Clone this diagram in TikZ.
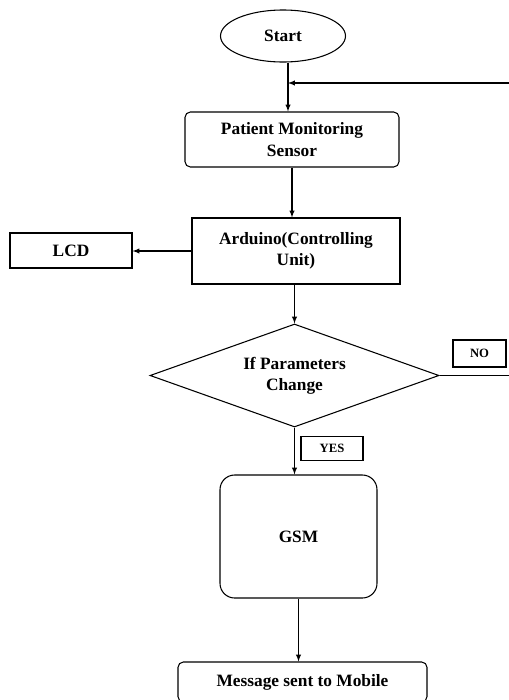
\documentclass[tikz,border=0pt]{standalone}
\usepackage{fontspec}
\setmainfont{Liberation Serif}
\usetikzlibrary{positioning, arrows, shapes.geometric, calc}

\tikzset{
    box/.style={draw, thick, align=center, inner sep=2pt, font=\fontsize{13}{16}\selectfont\bfseries},
    roundbox/.style={box, rounded corners=4pt},
    tag/.style={draw, thick, inner sep=1pt, font=\fontsize{9.5}{11}\selectfont\bfseries},
    flow/.style={draw, thick, -latex}
}

\begin{document}
\begin{tikzpicture}[x=0.75pt, y=-0.75pt]
    \useasboundingbox (0,0) rectangle (509,700);
    \clip (0,0) rectangle (509,700);

    % blocks
    \node[box, ellipse, minimum width=93.75pt, minimum height=39pt] (start) at (283,36) {Start};
    \node[roundbox, minimum width=160.5pt, minimum height=41.25pt] (pms) at (292,139.5) {Patient Monitoring\\Sensor};
    \node[box, minimum width=156pt, minimum height=49.5pt] (ard) at (296,251) {Arduino(Controlling\\Unit)};
    \node[box, minimum width=91.5pt, minimum height=26.25pt] (lcd) at (71,250.5) {LCD};
    \node[box, diamond, aspect=2.8, inner sep=0pt, minimum width=216.75pt, minimum height=77.25pt] (cond) at (294.5,375.5) {If Parameters\\Change};
    \node[tag, minimum width=39.75pt, minimum height=20.25pt] (no) at (479.5,353.5) {NO};
    \node[tag, minimum width=46.5pt, minimum height=18pt] (yes) at (332,448.5) {YES};
    \node[box, rounded corners=11pt, minimum width=117.75pt, minimum height=92.25pt] (gsm) at (298.5,536.5) {GSM};
    \node[roundbox, minimum width=186.75pt, minimum height=30pt] (msg) at (302.5,682) {Message sent to Mobile};

    % loop back point
    \coordinate (jn) at (288,83);

    % connectors
    \draw[thick] (start.south -| jn) -- (jn);
    \draw[flow] (jn) -- (jn |- pms.north);
    \draw[flow] (pms.south) -- (pms.south |- ard.north);
    \draw[flow] (ard.west) -- (ard.west -| lcd.east);
    \draw[flow] (cond.north |- ard.south) -- (cond.north);
    \draw[flow] (cond.south) -- (cond.south |- gsm.north);
    \draw[flow] (cond.east) -- ++(90,0) |- (jn);
    \draw[flow] (gsm.south) -- (gsm.south |- msg.north);
\end{tikzpicture}
\end{document}
